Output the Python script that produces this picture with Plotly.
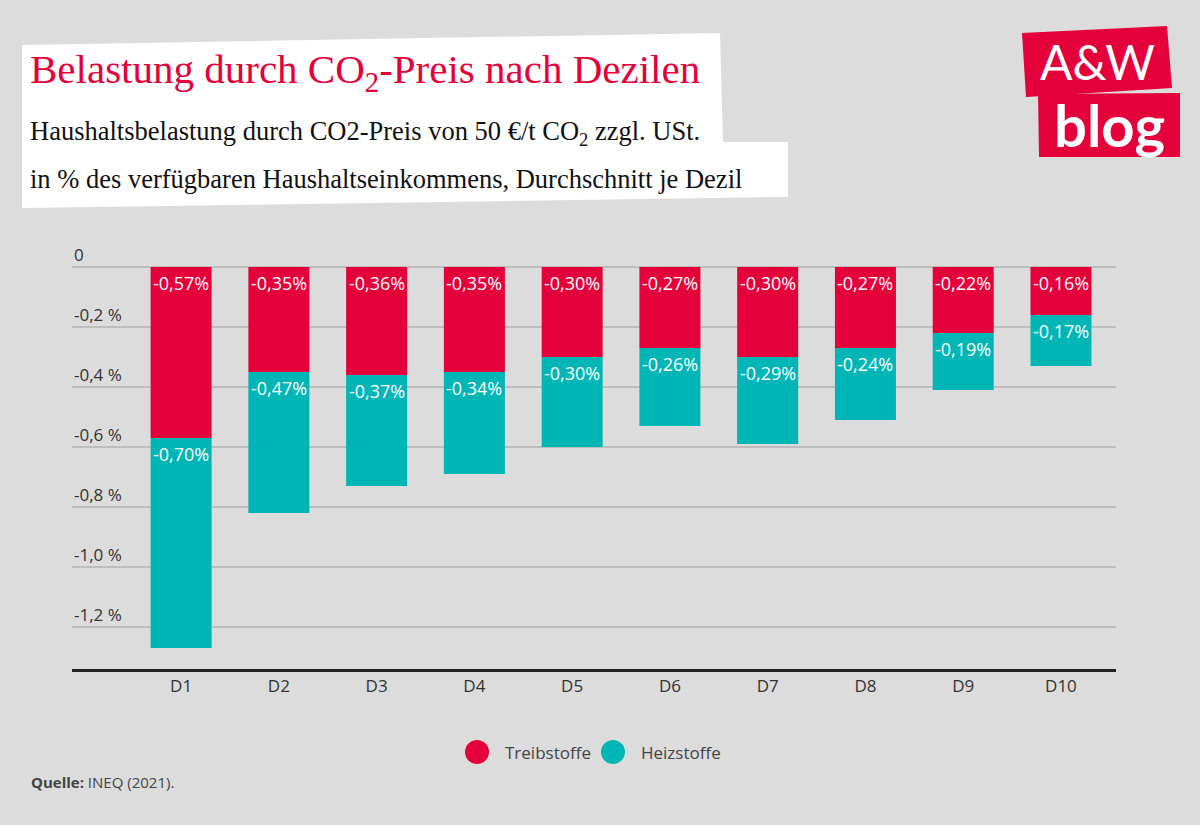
import plotly.graph_objects as go

categories = ["D1", "D2", "D3", "D4", "D5", "D6", "D7", "D8", "D9", "D10"]
treibstoffe = [-0.57, -0.35, -0.36, -0.35, -0.30, -0.27, -0.30, -0.27, -0.22, -0.16]
heizstoffe = [-0.70, -0.47, -0.37, -0.34, -0.30, -0.26, -0.29, -0.24, -0.19, -0.17]
y_ticks = [0, -0.2, -0.4, -0.6, -0.8, -1.0, -1.2]
y_tick_labels = ["0", "-0,2 %", "-0,4 %", "-0,6 %", "-0,8 %", "-1,0 %", "-1,2 %"]

RED = "#E4003A"
TEAL = "#00B5B5"
BG = "#DCDCDC"
W, H = 1200, 825
L, R, T, B = 72, 1116, 262, 669


def px(x):
    return (x - L) / (R - L)


def py(y):
    return (B - y) / (B - T)


def fmt(v):
    return ("%.2f" % v).replace(".", ",") + "%"


fig = go.Figure()
fig.add_trace(go.Bar(x=categories, y=treibstoffe, name="Treibstoffe",
                     marker=dict(color=RED, line=dict(width=0)), showlegend=False,
                     hoverinfo="skip"))
fig.add_trace(go.Bar(x=categories, y=heizstoffe, name="Heizstoffe",
                     marker=dict(color=TEAL, line=dict(width=0)), showlegend=False,
                     hoverinfo="skip"))

annotations = []
shapes = []
lab_font = dict(family="Open Sans", size=18, color="white")
for c, t, h in zip(categories, treibstoffe, heizstoffe):
    annotations.append(dict(x=c, y=0, xref="x", yref="y", text=fmt(t), showarrow=False,
                            yanchor="middle", xanchor="center", yshift=-16, font=lab_font))
    annotations.append(dict(x=c, y=t, xref="x", yref="y", text=fmt(h), showarrow=False,
                            yanchor="middle", xanchor="center", yshift=-16, font=lab_font))

for v, lab in zip(y_ticks, y_tick_labels):
    annotations.append(dict(x=0, y=v, xref="paper", yref="y", text=lab, showarrow=False,
                            xanchor="left", yanchor="middle", yshift=13,
                            font=dict(family="Open Sans", size=17, color="#333")))

# white header box
shapes.append(dict(type="path", xref="paper", yref="paper",
                   path="M {},{} L {},{} L {},{} L {},{} L {},{} L {},{} L {},{} Z".format(
                       px(22), py(45), px(720), py(33), px(723), py(142), px(788), py(142),
                       px(788), py(197), px(22), py(208), px(22), py(45)),
                   fillcolor="white", line=dict(width=0), layer="below"))
# logo boxes
shapes.append(dict(type="path", xref="paper", yref="paper",
                   path="M {},{} L {},{} L {},{} L {},{} Z".format(
                       px(1022), py(33), px(1167), py(26), px(1172), py(88), px(1026), py(97)),
                   fillcolor=RED, line=dict(width=0)))
shapes.append(dict(type="path", xref="paper", yref="paper",
                   path="M {},{} L {},{} L {},{} L {},{} Z".format(
                       px(1038), py(94), px(1180), py(93), px(1180), py(157), px(1039), py(157)),
                   fillcolor=RED, line=dict(width=0)))

annotations += [
    dict(x=px(28), y=py(72), xref="paper", yref="paper", xanchor="left", yanchor="middle",
         text="Belastung durch CO<sub>2</sub>-Preis nach Dezilen", showarrow=False,
         font=dict(family="Liberation Serif", size=41, color=RED)),
    dict(x=px(28), y=py(133), xref="paper", yref="paper", xanchor="left", yanchor="middle",
         text="Haushaltsbelastung durch CO2-Preis von 50 €/t CO<sub>2</sub> zzgl. USt.", showarrow=False,
         font=dict(family="Liberation Serif", size=26.5, color="#111")),
    dict(x=px(28), y=py(179), xref="paper", yref="paper", xanchor="left", yanchor="middle",
         text="in % des verfügbaren Haushaltseinkommens, Durchschnitt je Dezil", showarrow=False,
         font=dict(family="Liberation Serif", size=26.5, color="#111")),
    dict(x=px(1097), y=py(62), xref="paper", yref="paper", xanchor="center", yanchor="middle",
         text="A&amp;W", showarrow=False,
         font=dict(family="Lato", size=48, color="white")),
    dict(x=px(1109), y=py(124), xref="paper", yref="paper", xanchor="center", yanchor="middle",
         text="<b>blog</b>", showarrow=False,
         font=dict(family="Lato", size=58, color="white")),
    dict(x=px(29), y=py(782), xref="paper", yref="paper", xanchor="left", yanchor="middle",
         text="<b>Quelle:</b> INEQ (2021).", showarrow=False,
         font=dict(family="Open Sans", size=15, color="#444")),
]

# legend (manual)
for cx, col, name in [(477, RED, "Treibstoffe"), (613, TEAL, "Heizstoffe")]:
    shapes.append(dict(type="circle", xref="paper", yref="paper",
                       x0=px(cx - 12), x1=px(cx + 12), y0=py(752 + 12), y1=py(752 - 12),
                       fillcolor=col, line=dict(width=0)))
    annotations.append(dict(x=px(cx + 26), y=py(752), xref="paper", yref="paper",
                            xanchor="left", yanchor="middle", text=name, showarrow=False,
                            font=dict(family="Open Sans", size=17, color="#444")))

fig.update_layout(
    width=W, height=H,
    paper_bgcolor=BG, plot_bgcolor=BG,
    margin=dict(l=L, r=W - R, t=T, b=H - B, pad=0),
    barmode="relative", bargap=0.376,
    xaxis=dict(range=[-1.116, 9.563], showgrid=False, showline=True, linecolor="#222",
               linewidth=3, ticks="", tickfont=dict(family="Open Sans", size=17, color="#333"),
               zeroline=False, fixedrange=True),
    yaxis=dict(range=[-1.34, 0.01667], tickvals=y_ticks, showticklabels=False,
               gridcolor="#BDBDBD", gridwidth=1.5, zeroline=False, showline=False,
               fixedrange=True),
    shapes=shapes, annotations=annotations,
    showlegend=False,
)

fig.write_html("out.html")
